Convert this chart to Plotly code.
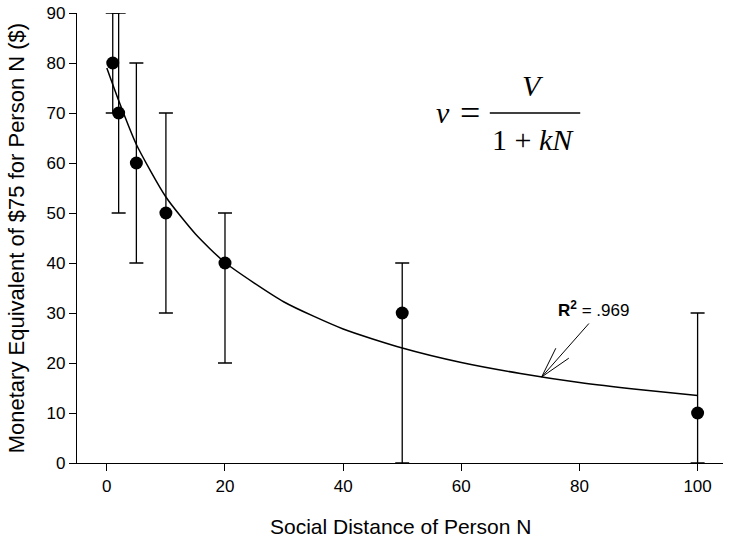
import plotly.graph_objects as go

# Data
social_distance = [1, 2, 5, 10, 20, 50, 100]
value = [80, 70, 60, 50, 40, 30, 10]
err_plus = [10, 20, 20, 20, 10, 10, 20]
err_minus = [10, 20, 20, 20, 20, 30, 10]

# Fitted hyperbolic curve
curve_x = [0, 2, 5, 10, 15, 20, 30, 40, 50, 60, 70, 80, 90, 100]
curve_y = [79, 72.5, 63.7, 53.2, 45.8, 40.1, 32.2, 26.8, 23.0, 20.1, 17.9, 16.1, 14.7, 13.5]

x_ticks = [0, 20, 40, 60, 80, 100]
y_ticks = [0, 10, 20, 30, 40, 50, 60, 70, 80, 90]

x_title = "Social Distance of Person N"
y_title = "Monetary Equivalent of $75 for Person N ($)"

SANS = "Liberation Sans, Arial, sans-serif"
SERIF = "Liberation Serif, Times New Roman, serif"

fig = go.Figure()

fig.add_trace(go.Scatter(
    x=curve_x, y=curve_y, mode="lines",
    line=dict(color="black", width=1.5, shape="spline", smoothing=0.6),
    hoverinfo="skip", showlegend=False,
))

fig.add_trace(go.Scatter(
    x=social_distance, y=value, mode="markers",
    marker=dict(color="black", size=13),
    error_y=dict(type="data", symmetric=False, array=err_plus, arrayminus=err_minus,
                 color="black", thickness=1.3, width=7),
    cliponaxis=False, showlegend=False,
))

axis_common = dict(
    showline=True, linecolor="black", linewidth=1.3,
    ticks="outside", ticklen=7, tickwidth=1.3, tickcolor="black",
    showgrid=False, zeroline=False, automargin=False,
    tickfont=dict(family=SANS, size=17, color="black"),
)

fig.update_layout(
    width=729, height=540,
    margin=dict(l=77, r=6, t=13, b=77),
    paper_bgcolor="white", plot_bgcolor="white",
    xaxis=dict(range=[-5.05, 104.3], tickvals=x_ticks, **axis_common),
    yaxis=dict(range=[0, 90], tickvals=y_ticks, **axis_common),
)

# Axis titles
fig.add_annotation(xref="paper", yref="paper", x=0.5, y=-0.142, xanchor="center", yanchor="middle",
                   text=x_title, showarrow=False,
                   font=dict(family=SANS, size=21, color="black"))
fig.add_annotation(xref="paper", yref="paper", x=-0.094, y=0.5, xanchor="center", yanchor="middle",
                   text=y_title, textangle=-90, showarrow=False,
                   font=dict(family=SANS, size=22, color="black"))

# Formula v = V / (1 + kN)
fig.add_annotation(xref="paper", yref="paper", x=0.5666, y=0.778, xanchor="center", yanchor="middle",
                   text="<i>v</i>", showarrow=False,
                   font=dict(family=SERIF, size=30, color="black"))
fig.add_annotation(xref="paper", yref="paper", x=0.6084, y=0.778, xanchor="center", yanchor="middle",
                   text="=", showarrow=False,
                   font=dict(family=SERIF, size=36, color="black"))
fig.add_annotation(xref="paper", yref="paper", x=0.706, y=0.840, xanchor="center", yanchor="middle",
                   text="<i>V</i>", showarrow=False,
                   font=dict(family=SERIF, size=30, color="black"))
fig.add_annotation(xref="paper", yref="paper", x=0.706, y=0.718, xanchor="center", yanchor="middle",
                   text="1 + <i>kN</i>", showarrow=False,
                   font=dict(family=SERIF, size=30, color="black"))
fig.add_shape(type="line", xref="paper", yref="paper", x0=0.639, x1=0.779, y0=0.778, y1=0.778,
              line=dict(color="black", width=1.5))

# R^2 label with open arrow
fig.add_annotation(x=82.4, y=30.9, text="<b>R<sup>2</sup></b> = .969", showarrow=False,
                   font=dict(family=SANS, size=17, color="black"))
for (x0, y0) in [(81.6, 27.9), (76.0, 22.95), (78.2, 20.96)]:
    fig.add_shape(type="line", x0=x0, y0=y0, x1=73.6, y1=17.2,
                  line=dict(color="black", width=1))

fig.write_html("out.html", config={"displayModeBar": False},
               post_script="document.body.style.margin='0';")
